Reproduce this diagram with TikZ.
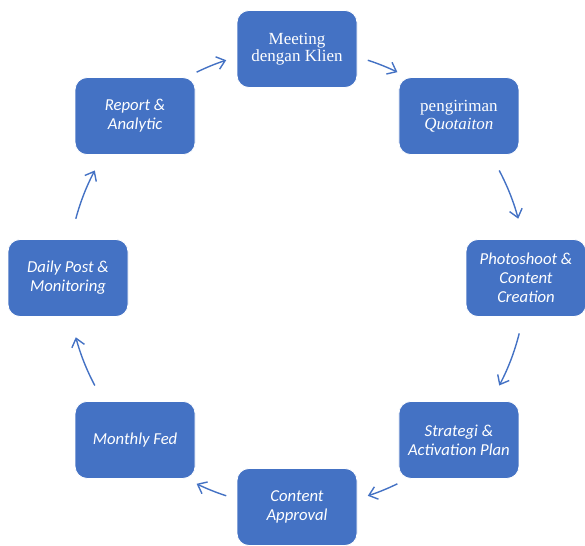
\documentclass[tikz,border=0pt]{standalone}
\usepackage{fontspec}
\setmainfont{Carlito}
\newfontfamily\timesf{Liberation Serif}
\usetikzlibrary{arrows.meta}
\definecolor{boxblue}{HTML}{4472C4}
\begin{document}
\begin{tikzpicture}[x=1pt,y=1pt,
  stepbox/.style={draw=white, line width=0.8pt, fill=boxblue, rounded corners=12pt,
    minimum width=120pt, minimum height=77pt, text=white, align=center,
    font=\fontsize{16.7}{19}\selectfont\itshape, inner sep=2pt},
  serifbox/.style={stepbox, font=\timesf\fontsize{17}{17.5}\selectfont},
  arr/.style={draw=boxblue, line width=1.4pt, -{Straight Barb[length=8pt,width=13pt]}}]
\useasboundingbox (0,0) rectangle (585,545);
\coordinate (C) at (297,267);
\node[serifbox] (n1) at ([shift={(90:229)}]C) {Meeting\\dengan Klien};
\node[serifbox] (n2) at ([shift={(45:229)}]C) {pengiriman\\\itshape Quotaiton};
\node[stepbox] (n3) at ([shift={(0:229)}]C) {Photoshoot \&\\Content\\Creation};
\node[stepbox] (n4) at ([shift={(-45:229)}]C) {Strategi \&\\Activation Plan};
\node[stepbox] (n5) at ([shift={(-90:229)}]C) {Content\\Approval};
\node[stepbox] (n6) at ([shift={(-135:229)}]C) {Monthly Fed};
\node[stepbox] (n7) at ([shift={(180:229)}]C) {Daily Post \&\\Monitoring};
\node[stepbox] (n8) at ([shift={(135:229)}]C) {Report \&\\Analytic};
\draw[arr] ([shift={(116:229)}]C) arc[start angle=116, end angle=108, radius=229];
\draw[arr] ([shift={(72:229)}]C) arc[start angle=72, end angle=64, radius=229];
\draw[arr] ([shift={(28:229)}]C) arc[start angle=28, end angle=15, radius=229];
\draw[arr] ([shift={(-14:229)}]C) arc[start angle=-14, end angle=-28, radius=229];
\draw[arr] ([shift={(-64:229)}]C) arc[start angle=-64, end angle=-72, radius=229];
\draw[arr] ([shift={(-108:229)}]C) arc[start angle=-108, end angle=-116, radius=229];
\draw[arr] ([shift={(-152:229)}]C) arc[start angle=-152, end angle=-165, radius=229];
\draw[arr] ([shift={(165:229)}]C) arc[start angle=165, end angle=152, radius=229];
\end{tikzpicture}
\end{document}
